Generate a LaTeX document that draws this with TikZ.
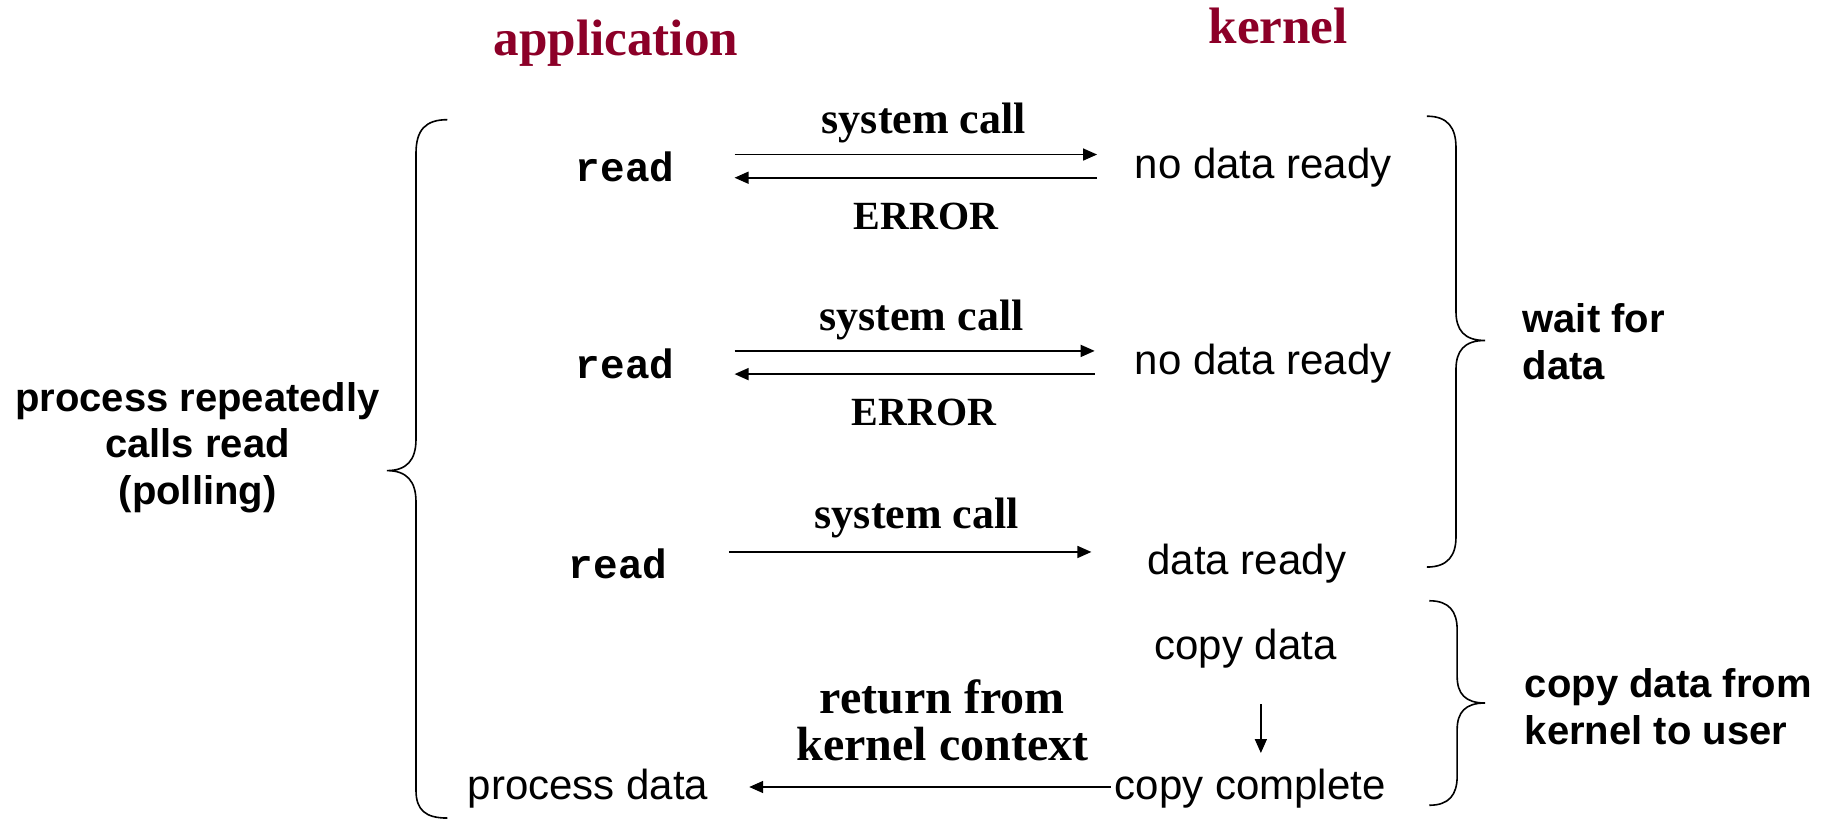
\documentclass[tikz,border=0pt]{standalone}
\usepackage{fontspec}
\setmainfont{Liberation Serif}
\newfontfamily\sansf{Liberation Sans}
\newfontfamily\monof{Liberation Mono}
\usetikzlibrary{arrows.meta}
\definecolor{kred}{RGB}{140,0,40}
\tikzset{
  hdr/.style={font=\fontsize{25.6}{28}\selectfont\bfseries, text=kred, inner sep=0pt},
  lbl/.style={font=\fontsize{22}{23.2}\selectfont\bfseries, inner sep=0pt, align=center},
  errlbl/.style={font=\fontsize{20}{23.2}\selectfont\bfseries, inner sep=0pt},
  retlbl/.style={font=\fontsize{24}{23.2}\selectfont\bfseries, inner sep=0pt, align=center},
  codetxt/.style={font=\monof\fontsize{20.5}{24}\selectfont\bfseries, inner sep=0pt},
  krn/.style={font=\sansf\fontsize{21}{24}\selectfont, inner sep=0pt},
  note/.style={font=\sansf\fontsize{20}{23.3}\selectfont\bfseries, inner sep=0pt},
  arr/.style={line width=0.8pt, -{Triangle[length=7pt,width=6pt]}},
  bracepath/.style={line width=0.8pt}
}
\begin{document}
\begin{tikzpicture}[x=0.581pt,y=-0.581pt]
\useasboundingbox (0,0) rectangle (1568,705);
% headers
\node[hdr] (app) at (530,37) {application};
\node[hdr] (ker) at (1100,22) {kernel};
% left note
\node[note, align=center] (poll) at (170,385) {process repeatedly\\calls read\\(polling)};
% rows
\node[codetxt] (r1) at (538,144) {read};
\node[krn] (n1) at (1087,144) {no data ready};
\node[codetxt] (r2) at (538,313) {read};
\node[krn] (n2) at (1087,313) {no data ready};
\node[codetxt] (r3) at (532,485) {read};
\node[krn] (dr) at (1073,485) {data ready};
\node[krn] (cd) at (1072,558) {copy data};
\node[krn] (cc) at (1076,679) {copy complete};
\node[krn] (pd) at (506,679) {process data};
% arrow labels
\node[lbl] (sc1) at (795,106) {system call};
\node[errlbl] (er1) at (797,186) {ERROR};
\node[lbl] (sc2) at (793,275) {system call};
\node[errlbl] (er2) at (795,355) {ERROR};
\node[lbl] (sc3) at (789,446) {system call};
\node[retlbl] (ret) at (811,620) {return from\\kernel context};
% right notes
\node[note, align=left, anchor=west] (wait) at (1310,294) {wait for\\data};
\node[note, align=left, anchor=west] (copy) at (1312,608) {copy data from\\kernel to user};
% arrows
\draw[arr, shorten <=29.9pt, shorten >=18.6pt] ([yshift=6.4pt]r1.east) -- ([yshift=6.4pt]n1.west);
\draw[arr, shorten <=18.6pt, shorten >=29.9pt] ([yshift=-5.2pt]n1.west) -- ([yshift=-5.2pt]r1.east);
\draw[arr, shorten <=29.9pt, shorten >=19.8pt] ([yshift=6.4pt]r2.east) -- ([yshift=6.4pt]n2.west);
\draw[arr, shorten <=19.8pt, shorten >=29.9pt] ([yshift=-5.2pt]n2.west) -- ([yshift=-5.2pt]r2.east);
\draw[arr, shorten <=30.5pt, shorten >=27.9pt] ([yshift=5.8pt]r3.east) -- ([yshift=5.8pt]dr.west);
\draw[arr, shorten <=18pt, shorten >=8pt] ([xshift=7.6pt]cd.south) -- ([xshift=7.6pt]cd.south |- cc.north);
\draw[arr, shorten <=2pt, shorten >=20.3pt] ([yshift=1pt]cc.west) -- ([yshift=1pt]pd.east);
% braces
\draw[bracepath] (385,103) .. controls (366,103) and (358,112) .. (358,132) -- (358,378)
  .. controls (358,396) and (350,405) .. (333,405)
  .. controls (350,405) and (358,414) .. (358,432) -- (358,680)
  .. controls (358,697) and (366,704) .. (385,704);
\draw[bracepath] (1228,100) .. controls (1246,100) and (1253,110) .. (1253,127) -- (1253,268)
  .. controls (1253,284) and (1260,293) .. (1278,293)
  .. controls (1260,293) and (1253,302) .. (1253,318) -- (1253,462)
  .. controls (1253,478) and (1246,488) .. (1228,488);
\draw[bracepath] (1230,517) .. controls (1247,517) and (1254,526) .. (1254,542) -- (1254,582)
  .. controls (1254,597) and (1261,605) .. (1278,605)
  .. controls (1261,605) and (1254,613) .. (1254,628) -- (1254,668)
  .. controls (1254,684) and (1247,693) .. (1230,693);
\end{tikzpicture}
\end{document}
